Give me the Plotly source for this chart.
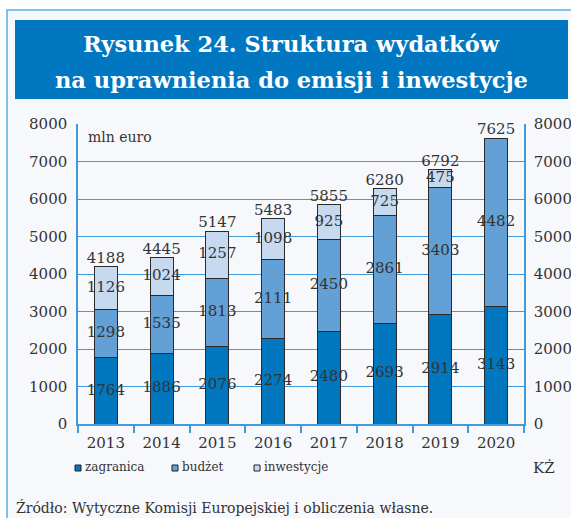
import plotly.graph_objects as go

years = ["2013", "2014", "2015", "2016", "2017", "2018", "2019", "2020"]
zagranica = [1764, 1886, 2076, 2274, 2480, 2693, 2914, 3143]
budzet = [1298, 1535, 1813, 2111, 2450, 2861, 3403, 4482]
inwestycje = [1126, 1024, 1257, 1098, 925, 725, 475, 0]
totals = [4188, 4445, 5147, 5483, 5855, 6280, 6792, 7625]
y_ticks = [0, 1000, 2000, 3000, 4000, 5000, 6000, 7000, 8000]

series_names = ["zagranica", "budżet", "inwestycje"]
series_colors = ["#0077be", "#62a0d6", "#c7d9ef"]

W, H = 571, 518
L, R, T, B = 78, 524, 124, 424
TXT = "#333333"
BLUE = "#3f9bdb"
SERIF = "DejaVu Serif"


def px_x(px):
    return (px - L) / (R - L)


def px_y(py):
    return (B - py) / (B - T)


fig = go.Figure()

series = [zagranica, budzet, inwestycje]
for name, vals, col in zip(series_names, series, series_colors):
    fig.add_trace(go.Bar(
        x=years, y=vals, name=name, marker=dict(color=col, line=dict(color="#2a2a2a", width=1)),
        showlegend=False, hoverinfo="skip",
    ))

# segment labels (centres of stacked segments)
base = [0] * len(years)
for vals in series:
    lx, ly, lt = [], [], []
    for i, v in enumerate(vals):
        if v > 0:
            lx.append(years[i])
            ly.append(base[i] + v / 2)
            lt.append(str(v))
        base[i] += v
    fig.add_trace(go.Scatter(
        x=lx, y=ly, text=lt, mode="text", textposition="middle center",
        textfont=dict(family=SERIF, size=15, color=TXT),
        showlegend=False, hoverinfo="skip", cliponaxis=False,
    ))

# totals above bars (on the right axis, same scale)
stack_top = [a + b + c for a, b, c in zip(zagranica, budzet, inwestycje)]
fig.add_trace(go.Scatter(
    x=years, y=stack_top, text=[str(t) for t in totals], mode="text", textposition="top center",
    textfont=dict(family=SERIF, size=15, color=TXT), yaxis="y2",
    showlegend=False, hoverinfo="skip", cliponaxis=False,
))

shapes = [
    dict(type="rect", xref="paper", yref="paper", x0=px_x(7), x1=px_x(590), y0=px_y(540), y1=px_y(10),
         fillcolor="#f6f8fc", line=dict(color="#5aaee2", width=1.5), layer="below"),
    dict(type="rect", xref="paper", yref="paper", x0=px_x(15), x1=px_x(568), y0=px_y(99), y1=px_y(20),
         fillcolor="#0077c0", line=dict(width=0), layer="below"),
]

annotations = [
    dict(text="<b>Rysunek 24. Struktura wydatków</b>", xref="paper", yref="paper",
         x=px_x(291), y=px_y(44), xanchor="center", yanchor="middle", showarrow=False,
         font=dict(family=SERIF, size=22.5, color="white")),
    dict(text="<b>na uprawnienia do emisji i inwestycje</b>", xref="paper", yref="paper",
         x=px_x(291), y=px_y(80), xanchor="center", yanchor="middle", showarrow=False,
         font=dict(family=SERIF, size=22.5, color="white")),
    dict(text="mln euro", xref="paper", yref="paper", x=px_x(86), y=px_y(137),
         xanchor="left", yanchor="middle", showarrow=False, font=dict(family=SERIF, size=14, color=TXT)),
    dict(text="KŻ", xref="paper", yref="paper", x=px_x(544), y=px_y(468),
         xanchor="center", yanchor="middle", showarrow=False, font=dict(family=SERIF, size=15, color=TXT)),
    dict(text="Źródło: Wytyczne Komisji Europejskiej i obliczenia własne.", xref="paper", yref="paper",
         x=px_x(14), y=px_y(507), xanchor="left", yanchor="middle", showarrow=False,
         font=dict(family=SERIF, size=14, color=TXT)),
]

# legend (key squares + labels)
legend_marker_x = [75, 172, 254]
for name, col, mx in zip(series_names, series_colors, legend_marker_x):
    shapes.append(dict(type="rect", xref="paper", yref="paper",
                       x0=px_x(mx), x1=px_x(mx + 6), y0=px_y(471), y1=px_y(465),
                       fillcolor=col, line=dict(color="#222222", width=1), layer="above"))
    annotations.append(dict(text=name, xref="paper", yref="paper", x=px_x(mx + 8), y=px_y(467),
                            xanchor="left", yanchor="middle", showarrow=False,
                            font=dict(family=SERIF, size=12, color=TXT)))

fig.update_layout(
    width=W, height=H, autosize=False,
    margin=dict(l=L, r=W - R, t=T, b=H - B, pad=0),
    paper_bgcolor="white", plot_bgcolor="rgba(0,0,0,0)",
    barmode="stack", bargap=0.59, showlegend=False,
    font=dict(family=SERIF, color=TXT, size=15),
    shapes=shapes, annotations=annotations,
    xaxis=dict(type="category", categoryorder="array", categoryarray=years, automargin=False,
               showline=True, linecolor=BLUE, linewidth=1.5, ticks="outside", tickson="boundaries",
               ticklen=7, tickcolor=BLUE, tickwidth=1.5, showgrid=False, ticklabelstandoff=4,
               tickfont=dict(family=SERIF, size=15, color=TXT)),
    yaxis=dict(range=[0, 8000], tickvals=y_ticks, showgrid=True, gridcolor=BLUE, gridwidth=1.2,
               showline=True, linecolor=BLUE, linewidth=1.5, zeroline=False, ticks="", automargin=False,
               ticklabelstandoff=6, tickfont=dict(family=SERIF, size=15, color=TXT)),
    yaxis2=dict(range=[0, 8000], tickvals=y_ticks, overlaying="y", side="right", showgrid=False,
                showline=True, linecolor=BLUE, linewidth=1.5, zeroline=False, ticks="", automargin=False,
                ticklabelstandoff=5, tickfont=dict(family=SERIF, size=15, color=TXT)),
    hovermode=False,
)

fig.write_html("out.html", config={"displayModeBar": False},
               post_script="document.body.style.margin='0';document.body.style.overflow='hidden';")
